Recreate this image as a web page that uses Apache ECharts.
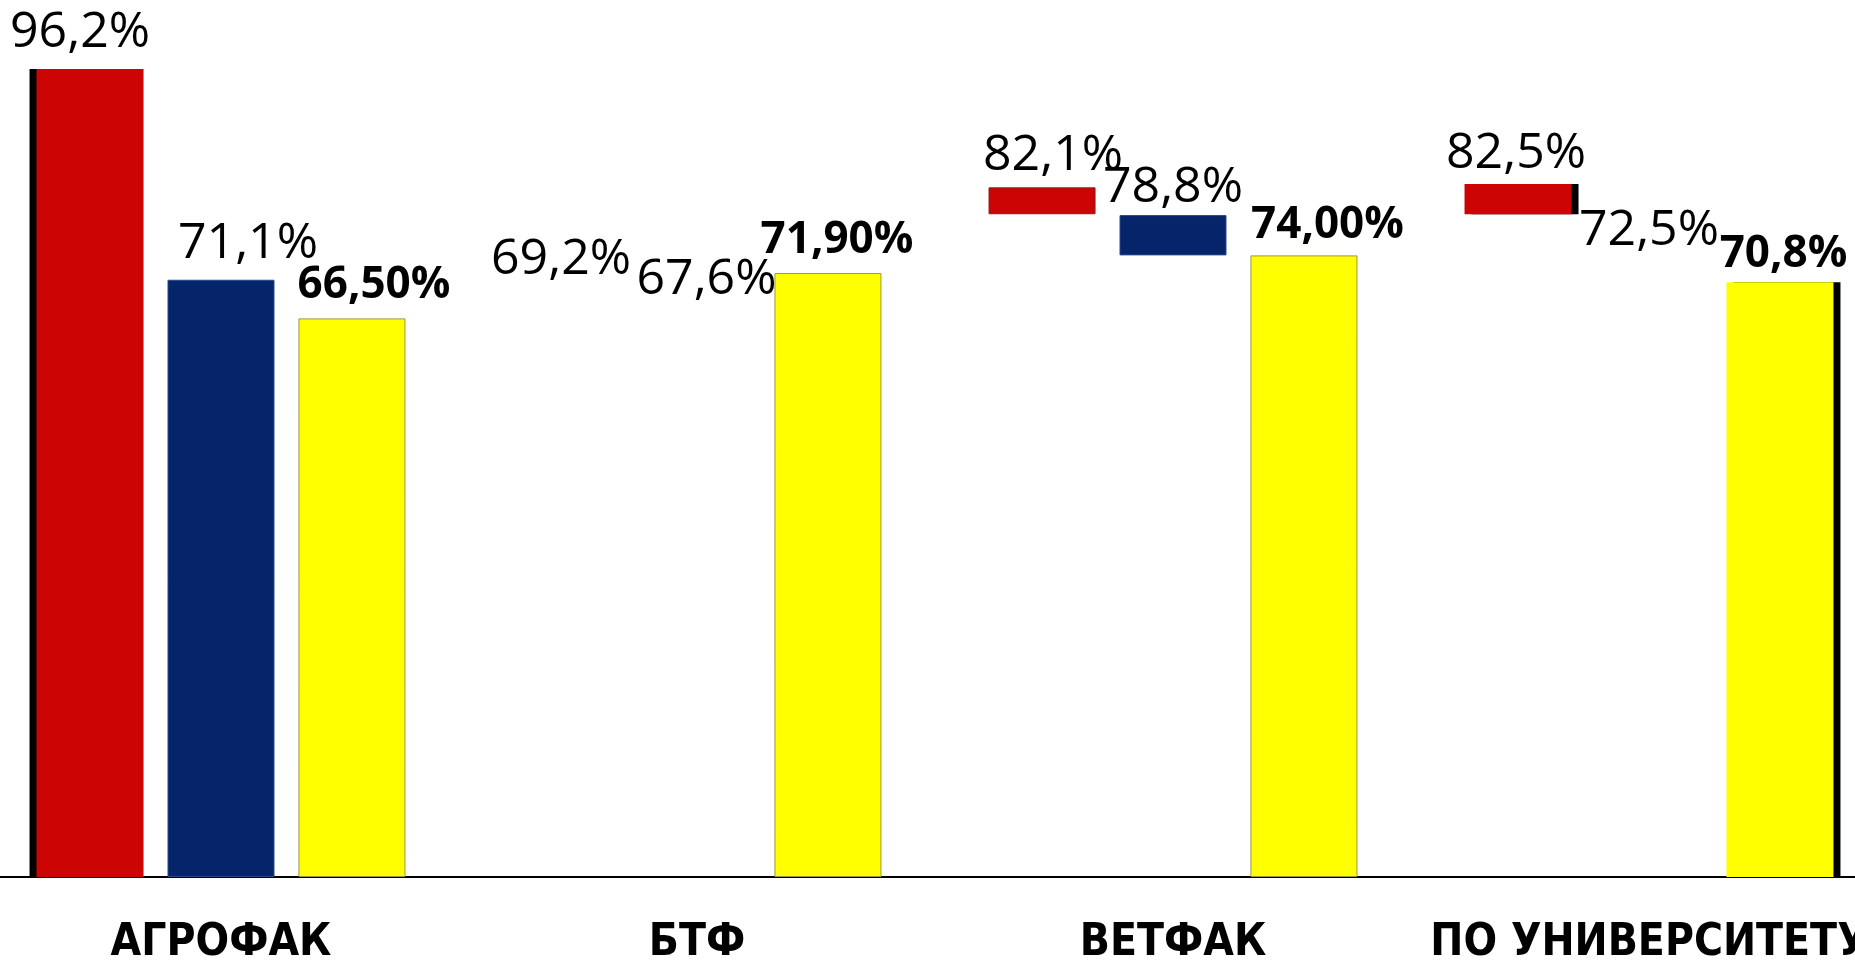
<!DOCTYPE html>
<html>
<head>
<meta charset="utf-8">
<script src="https://cdn.jsdelivr.net/npm/echarts@6/dist/echarts.min.js"></script>
<style>
html,body{margin:0;padding:0;background:#fff;}
#wrap{position:relative;width:1855px;height:960px;overflow:hidden;}
#chart{position:absolute;left:-17px;top:0;width:1904px;height:960px;}
</style>
</head>
<body>
<div id="wrap"><div id="chart"></div></div>
<script>
// ---- data ----
const categories = ['АГРОФАК', 'БТФ', 'ВЕТФАК', 'ПО УНИВЕРСИТЕТУ'];
const redValues = [96.2, 69.2, 82.1, 82.5];
const blueValues = [71.1, 67.6, 78.8, 72.5];
const yellowValues = [66.5, 71.9, 74.0, 70.8];
const yellowLabels = ['66,50%', '71,90%', '74,00%', '70,8%'];
// level below which each bar is not drawn in the original (bars appear cut off)
const redHiddenBelow = [0, 69.2, 78.9, 78.9];
const blueHiddenBelow = [0, 67.6, 74.0, 72.5];
const yellowHiddenBelow = [0, 0, 0, 0];

// ---- layout / style tweaks (not data) ----
const redNudge = [[-10, -3], [-5, -3], [11, 1], [-2, 2.5]];
const blueNudge = [[27, -3], [9.5, 4], [0, 6], [0, -4.5]];
const yellowNudge = [[22, 0], [9, 0], [23.5, 3], [3.5, 5]];

const fmt = v => v.toFixed(1).replace('.', ',') + '%';

const RED = '#CC0404', BLUE = '#06246A', YELLOW = '#FFFF00';

function visible(values, hidden, nudge, extraStyle) {
  return values.map((v, i) => {
    const h = +(v - hidden[i]).toFixed(2);
    const item = { value: h, label: { offset: nudge[i] } };
    if (extraStyle[i]) item.itemStyle = extraStyle[i];
    else if (h === 0) item.itemStyle = { borderWidth: 0, color: 'rgba(0,0,0,0)' };
    return item;
  });
}

const sideShadow = dx => ({ shadowColor: '#000', shadowBlur: 0, shadowOffsetX: dx, shadowOffsetY: 0, borderWidth: 0 });

const chart = echarts.init(document.getElementById('chart'));
const labelBase = { show: true, position: 'top', color: '#000', fontFamily: '"Open Sans", sans-serif' };

chart.setOption({
  animation: false,
  backgroundColor: '#fff',
  grid: { left: 0, right: 0, top: 37, bottom: 83, containLabel: false, outerBoundsMode: 'none' },
  xAxis: {
    type: 'category',
    data: categories,
    axisLine: { lineStyle: { color: '#000', width: 2 } },
    axisTick: { show: false },
    axisLabel: {
      interval: 0, margin: 45, color: '#000', fontSize: 44, fontWeight: 'bold',
      fontFamily: '"Liberation Sans Narrow", "DejaVu Sans Condensed", sans-serif'
    }
  },
  yAxis: { type: 'value', min: 0, max: 100, show: false, splitLine: { show: false } },
  series: [
    { type: 'bar', stack: 'r', barWidth: 107, barGap: '22.4%', silent: true,
      itemStyle: { color: 'rgba(0,0,0,0)' }, data: redHiddenBelow },
    { type: 'bar', stack: 'r', barWidth: 107, barGap: '22.4%',
      itemStyle: { color: RED, borderColor: '#8a1a1a', borderWidth: 1 },
      label: Object.assign({}, labelBase, { fontSize: 50, distance: 8,
        formatter: p => fmt(redValues[p.dataIndex]) }),
      data: visible(redValues, redHiddenBelow, redNudge, { 0: sideShadow(-7), 3: sideShadow(7) }) },
    { type: 'bar', stack: 'b', barWidth: 107, barGap: '22.4%', silent: true,
      itemStyle: { color: 'rgba(0,0,0,0)' }, data: blueHiddenBelow },
    { type: 'bar', stack: 'b', barWidth: 107, barGap: '22.4%',
      itemStyle: { color: BLUE, borderColor: '#2a4a8a', borderWidth: 1 },
      label: Object.assign({}, labelBase, { fontSize: 50, distance: 8,
        formatter: p => fmt(blueValues[p.dataIndex]) }),
      data: visible(blueValues, blueHiddenBelow, blueNudge, {}) },
    { type: 'bar', barWidth: 107, barGap: '22.4%',
      itemStyle: { color: YELLOW, borderColor: '#9c9640', borderWidth: 1 },
      label: Object.assign({}, labelBase, { fontSize: 44, fontWeight: 'bold', distance: 11,
        formatter: p => yellowLabels[p.dataIndex] }),
      data: visible(yellowValues, yellowHiddenBelow, yellowNudge, { 3: sideShadow(7) }) }
  ]
});
</script>
</body>
</html>
